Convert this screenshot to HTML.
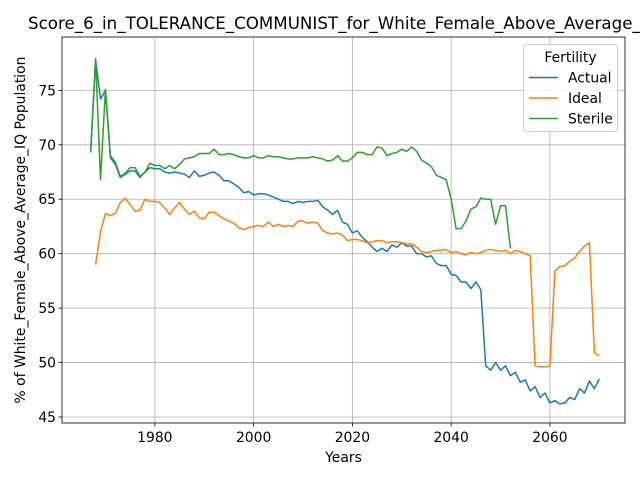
<!DOCTYPE html>
<html><head><meta charset="utf-8"><style>
body{margin:0;background:#fff;}
svg{display:block;font-family:"DejaVu Sans","Liberation Sans",sans-serif;}
</style></head><body>
<svg id="chart" width="640" height="480"></svg>
<script>
const startYear = 1967;
const actual = [69.3,77.8,74.2,75.0,68.8,68.2,67.0,67.3,67.6,67.6,67.0,67.5,67.9,67.8,67.8,67.5,67.4,67.5,67.4,67.3,67.0,67.6,67.1,67.2,67.4,67.5,67.2,66.7,66.7,66.4,66.1,65.6,65.7,65.4,65.5,65.5,65.4,65.2,65.0,64.8,64.8,64.6,64.8,64.7,64.8,64.8,64.9,64.3,64.0,63.6,64.0,62.9,62.7,61.9,62.1,61.5,61.1,60.6,60.2,60.5,60.2,60.8,60.6,61.0,60.7,60.7,60.0,60.0,59.7,59.8,59.1,58.9,58.9,58.1,58.0,57.4,57.4,56.8,57.4,56.7,49.7,49.3,50.0,49.3,49.7,48.8,49.1,48.2,48.4,47.4,47.8,46.8,47.2,46.3,46.5,46.2,46.3,46.8,46.6,47.6,47.2,48.3,47.6,48.5];
const idealStart = 1968;
const ideal = [59.0,62.0,63.7,63.5,63.7,64.7,65.1,64.5,63.9,64.0,65.0,64.8,64.8,64.7,64.2,63.6,64.2,64.7,64.1,63.6,63.9,63.3,63.2,63.8,63.8,63.5,63.2,63.0,62.8,62.4,62.2,62.4,62.5,62.6,62.5,62.9,62.5,62.7,62.5,62.6,62.5,63.0,63.0,62.8,62.9,62.8,62.1,61.9,61.8,61.9,61.7,61.2,61.3,61.3,61.2,61.0,61.1,61.2,61.2,61.0,61.1,61.1,61.0,60.9,60.9,60.6,60.2,60.1,60.2,60.3,60.3,60.4,60.1,60.2,60.0,59.9,60.1,60.0,60.1,60.3,60.4,60.3,60.2,60.3,60.0,60.3,60.2,60.0,59.8,49.7,49.6,49.6,49.7,58.4,58.8,58.9,59.3,59.6,60.2,60.7,61.0,50.9,50.6];
const sterile = [69.3,77.9,66.8,75.1,69.0,68.4,67.1,67.4,67.9,67.9,67.1,67.5,68.3,68.1,68.1,67.8,68.1,67.8,68.2,68.7,68.8,68.9,69.2,69.2,69.2,69.6,69.1,69.1,69.2,69.1,68.9,68.8,68.8,69.0,68.8,68.8,69.0,68.9,68.9,68.8,68.7,68.7,68.8,68.8,68.8,68.9,68.8,68.7,68.5,68.6,69.0,68.5,68.5,68.8,69.3,69.3,69.1,69.1,69.8,69.7,69.0,69.2,69.3,69.6,69.4,69.8,69.4,68.6,68.3,68.0,67.2,67.0,66.8,65.0,62.3,62.3,63.0,64.1,64.3,65.1,65.0,65.0,62.7,64.4,64.4,60.5];
const xTicks = [1980,2000,2020,2040,2060];
const yTicks = [45,50,55,60,65,70,75];

const L=62,R=625,T=37,B=423;
const x0=1961.2,x1=2075.2,y0=44.45,y1=79.9;
const sx=v=>L+(v-x0)/(x1-x0)*(R-L);
const sy=v=>B-(v-y0)/(y1-y0)*(B-T);
const svg=document.getElementById('chart');
const NS='http://www.w3.org/2000/svg';
function mk(tag,attrs,parent){const e=document.createElementNS(NS,tag);for(const k in attrs)e.setAttribute(k,attrs[k]);(parent||svg).appendChild(e);return e;}
const FS=13.9;

const grid=mk('g',{});


xTicks.forEach(t=>{
  const l=mk('line',{x1:sx(t),x2:sx(t),y1:T,y2:B,stroke:'#b0b0b0','stroke-width':0.8},grid);
  
  
  const tk=mk('line',{x1:sx(t),x2:sx(t),y1:B,y2:B+3.5,stroke:'#000','stroke-width':0.8});
  
  
  const tx=mk('text',{x:sx(t),y:B+19,'font-size':FS,'text-anchor':'middle',fill:'#000'});
  tx.textContent=t;
  
  
});
yTicks.forEach(t=>{
  const l=mk('line',{x1:L,x2:R,y1:sy(t),y2:sy(t),stroke:'#b0b0b0','stroke-width':0.8},grid);
  
  
  const tk=mk('line',{x1:L-3.5,x2:L,y1:sy(t),y2:sy(t),stroke:'#000','stroke-width':0.8});
  
  
  const tx=mk('text',{x:L-6,y:sy(t)+5,'font-size':FS,'text-anchor':'end',fill:'#000'});
  tx.textContent=t;
  
  
});

function series(vals,start,color,name){
  const d=vals.map((v,i)=>(i?'L':'M')+sx(start+i).toFixed(2)+','+sy(v).toFixed(2)).join('');
  const p=mk('path',{d:d,fill:'none',stroke:color,'stroke-width':1.5,'stroke-linejoin':'round'});
  
  
}
series(actual,startYear,'#1f77b4','actual-line');
series(ideal,idealStart,'#ff7f0e','ideal-line');
series(sterile,startYear,'#2ca02c','sterile-line');

const frame=mk('rect',{x:L,y:T,width:R-L,height:B-T,fill:'none',stroke:'#000','stroke-width':0.8});



const title=mk('text',{x:28,y:29,'font-size':16.7,'text-anchor':'start',fill:'#000'});
title.textContent='Score_6_in_TOLERANCE_COMMUNIST_for_White_Female_Above_Average_IQ';


const xl=mk('text',{x:(L+R)/2,y:462,'font-size':FS,'text-anchor':'middle',fill:'#000'});
xl.textContent='Years';


const yl=mk('text',{x:0,y:0,'font-size':FS,'text-anchor':'middle',fill:'#000',transform:'translate(25,'+((T+B)/2)+') rotate(-90)'});
yl.textContent='% of White_Female_Above_Average_IQ Population';



const lg=mk('g',{});


mk('rect',{x:523.5,y:44.5,width:94,height:87,rx:3,fill:'#fff','fill-opacity':0.8,stroke:'#cccccc'},lg);
const lt=mk('text',{x:570.5,y:62,'font-size':FS,'text-anchor':'middle'},lg);
lt.textContent='Fertility';


[['Actual','#1f77b4'],['Ideal','#ff7f0e'],['Sterile','#2ca02c']].forEach((e,i)=>{
  const y=77.5+i*20.5;
  const ln=mk('line',{x1:529,x2:558,y1:y,y2:y,stroke:e[1],'stroke-width':1.5},lg);
  
  
  const t=mk('text',{x:568,y:y+5,'font-size':FS},lg);
  t.textContent=e[0];
  
  
});
</script>
</body></html>
